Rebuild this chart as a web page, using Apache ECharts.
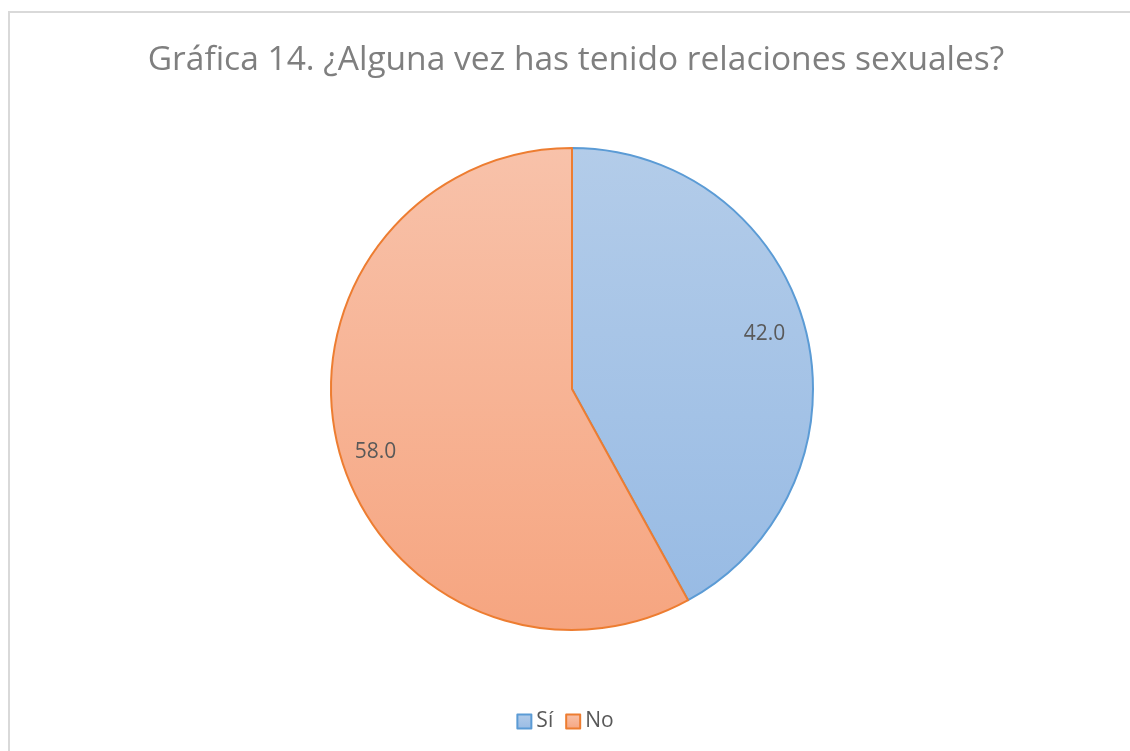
<!DOCTYPE html>
<html>
<head>
<meta charset="utf-8">
<script src="https://cdn.jsdelivr.net/npm/echarts@6/dist/echarts.min.js"></script>
<style>
  html, body { margin: 0; padding: 0; background: #fff; }
  #frame {
    position: absolute; left: 8px; top: 11px; width: 1130px; height: 760px;
    border: 2px solid #d9d9d9; box-sizing: border-box;
  }
  #chart { position: absolute; left: 0; top: 0; width: 1130px; height: 751px; }
</style>
</head>
<body>
<div id="frame"></div>
<div id="chart"></div>
<script>
const titleText = 'Gráfica 14. ¿Alguna vez has tenido relaciones sexuales?';
const categories = ['Sí', 'No'];
const values = [42.0, 58.0];

const fills = [
  new echarts.graphic.LinearGradient(0, 0, 0, 1, [
    { offset: 0, color: '#b3cce9' }, { offset: 1, color: '#98bbe4' }
  ]),
  new echarts.graphic.LinearGradient(0, 0, 0, 1, [
    { offset: 0, color: '#f8c2aa' }, { offset: 1, color: '#f6a580' }
  ])
];
const edges = ['#5b9bd5', '#ed7d31'];
// small nudges so the value labels sit where Excel put them
const labelNudge = [[-6, -4], [2, 12]];

const pieData = categories.map((name, i) => ({
  name: name,
  value: values[i],
  itemStyle: { color: fills[i], borderColor: edges[i], borderWidth: 2 }
}));

const chart = echarts.init(document.getElementById('chart'));
chart.setOption({
  animation: false,
  title: {
    text: titleText,
    left: 571,
    textAlign: 'center',
    top: 38,
    textStyle: { fontFamily: 'Open Sans', fontSize: 33.5, fontWeight: 'normal', color: '#7f7f7f' }
  },
  legend: {
    data: categories,
    bottom: 14,
    left: 'center',
    icon: 'rect',
    itemWidth: 14,
    itemHeight: 14,
    itemGap: 12,
    textStyle: { fontFamily: 'Open Sans', fontSize: 21, color: '#595959' }
  },
  series: [
    {
      type: 'pie',
      center: [572, 389],
      radius: 241,
      startAngle: 90,
      clockwise: true,
      label: { show: false },
      labelLine: { show: false },
      emphasis: { disabled: true },
      data: pieData
    },
    {
      // invisible ring only used to place the value labels
      type: 'pie',
      center: [572, 389],
      radius: [160, 244],
      startAngle: 90,
      clockwise: true,
      silent: true,
      legendHoverLink: false,
      itemStyle: { color: 'rgba(0,0,0,0)', borderWidth: 0 },
      label: {
        show: true,
        position: 'inside',
        formatter: p => p.value.toFixed(1),
        fontFamily: 'Open Sans',
        fontSize: 21,
        color: '#595959'
      },
      labelLine: { show: false },
      emphasis: { disabled: true },
      data: categories.map((name, i) => ({
        name: name,
        value: values[i],
        label: { offset: labelNudge[i] }
      }))
    }
  ]
});
</script>
</body>
</html>
